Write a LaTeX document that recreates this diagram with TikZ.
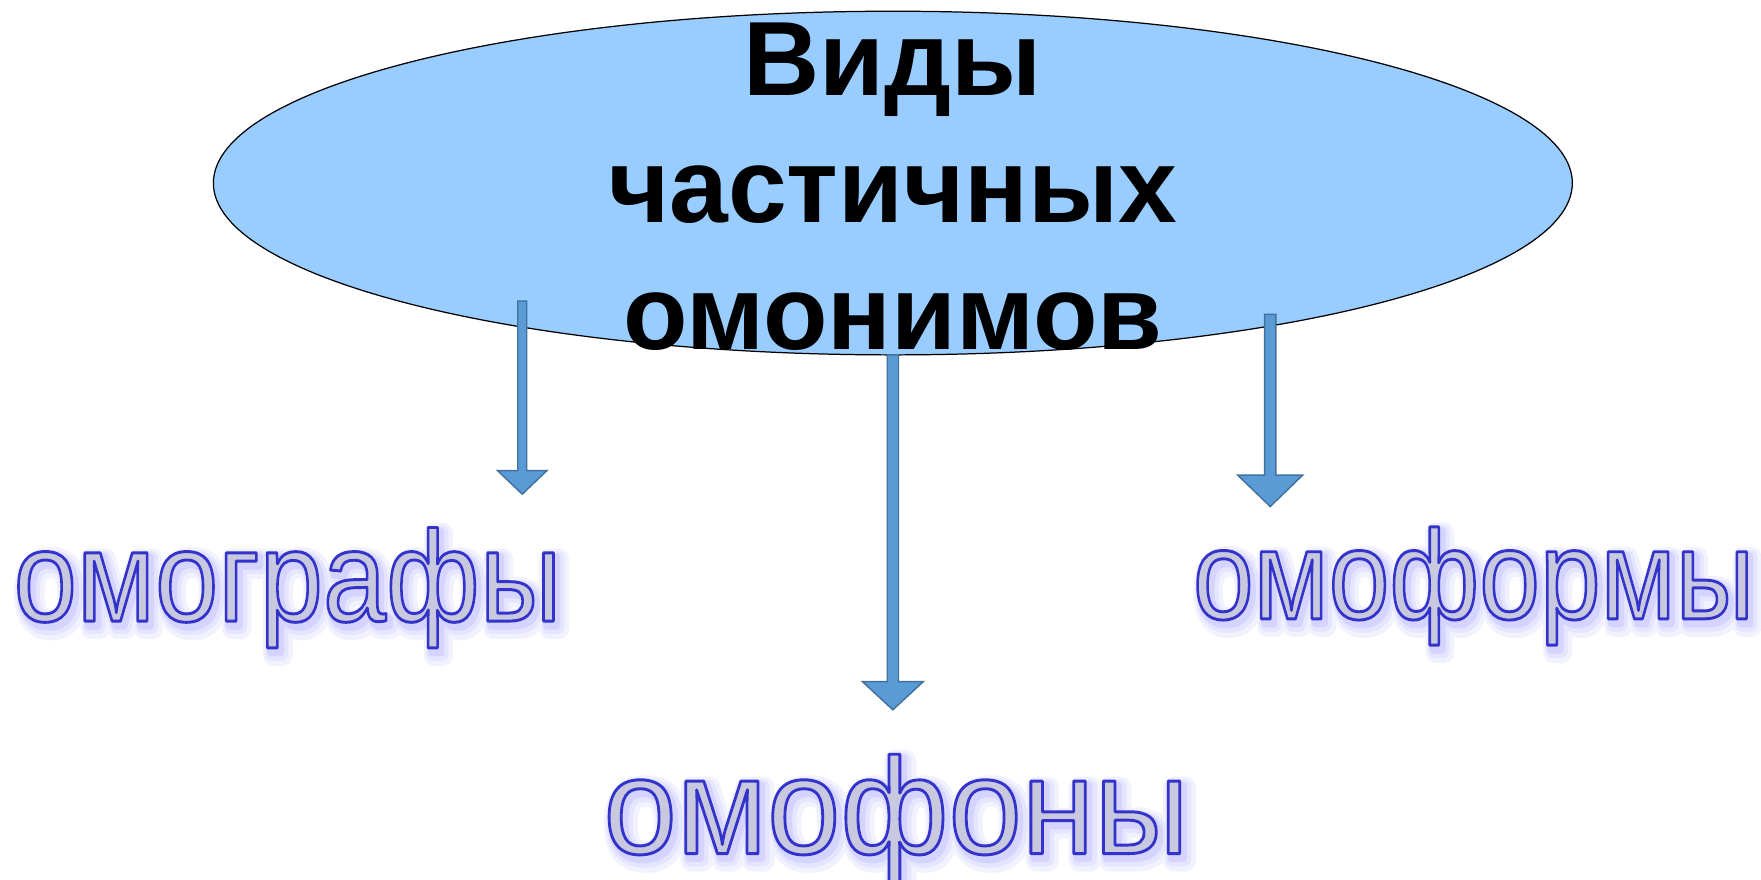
\documentclass[tikz,border=0pt]{standalone}
\usetikzlibrary{shapes.geometric}
\usepackage{fontspec}
\setmainfont{Liberation Sans}
\newcommand{\outltxt}[1]{\special{pdf:code 2 Tr 2.6 w 1 j 0.2 0.2 0.8 RG}#1\special{pdf:code 0 Tr 1 w 0 j}}
\newcommand{\glowtxt}[3]{\special{pdf:code 1 Tr #2 w 1 j #3 RG}#1\special{pdf:code 0 Tr 1 w 0 j}}
\definecolor{ellfill}{HTML}{99CCFF}
\definecolor{arrfill}{HTML}{5B9BD5}
\definecolor{arrline}{HTML}{41719C}
\definecolor{wordfill}{HTML}{C8C8DE}
\tikzset{
  glowstyle/.style={inner sep=0pt, anchor=base},
  wordstyle/.style={inner sep=0pt, anchor=base, text=wordfill},
  blockarrow/.style={fill=arrfill, draw=arrline, line width=1.3pt, line join=miter},
  title/.style={align=center, font=\fontsize{94}{113}\bfseries\selectfont, inner sep=0pt}
}
\newcommand{\barrow}[6]{% x, top, shaftbottom, tip, halfshaft, halfhead
  \draw[blockarrow] (#1-#5,#2) -- (#1+#5,#2) -- (#1+#5,#3) -- (#1+#6,#3) -- (#1,#4) -- (#1-#6,#3) -- (#1-#5,#3) -- cycle;}
\begin{document}
\begin{tikzpicture}[x=1pt,y=-1pt]
\useasboundingbox (0,0) rectangle (1568,783);
\node[draw=black, line width=1.1pt, fill=ellfill, ellipse, minimum width=1210pt, minimum height=306pt, inner sep=0pt] (ell) at (795,163) {};
\node[title, anchor=north] (ttl) at (795,20) {Виды\\частичных\\омонимов};
% arrows
\barrow{465}{268}{419}{440}{4}{22}
\barrow{795}{316}{607}{632}{5}{27}
\barrow{1131}{280}{423}{451}{5}{29}
% words
\foreach \nm/\x/\y/\fs/\xs/\w in {wa/256/553/115/0.88/омографы, wb/798/760/122/0.96/омофоны, wc/1312/551/113/0.86/омоформы}{
  \node[glowstyle, xscale=\xs, font=\fontsize{\fs}{\fs}\selectfont] at (\x+5,\y+6) {\glowtxt{\w}{20}{0.95 0.95 1}};
  \node[glowstyle, xscale=\xs, font=\fontsize{\fs}{\fs}\selectfont] at (\x+4,\y+5) {\glowtxt{\w}{13}{0.90 0.90 1}};
  \node[glowstyle, xscale=\xs, font=\fontsize{\fs}{\fs}\selectfont] at (\x+3,\y+4) {\glowtxt{\w}{7}{0.83 0.83 1}};
  \node[wordstyle, xscale=\xs, font=\fontsize{\fs}{\fs}\selectfont] (\nm) at (\x,\y) {\outltxt{\w}};
}
\end{tikzpicture}
\end{document}
